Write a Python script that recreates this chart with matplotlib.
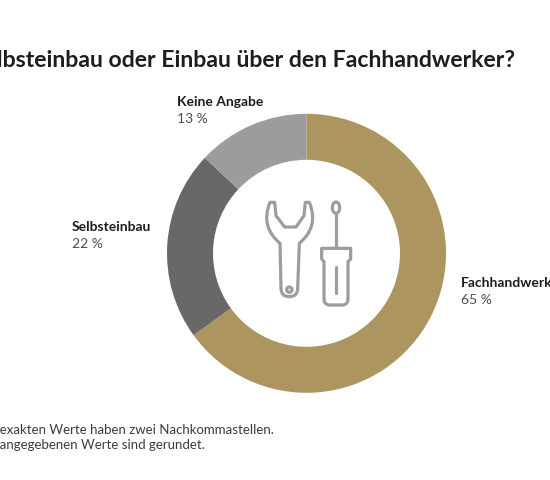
import matplotlib
matplotlib.use('Agg')
import matplotlib.pyplot as plt
from matplotlib.path import Path
from matplotlib.patches import PathPatch, Ellipse, Circle

plt.rcParams['font.family'] = ['Lato', 'DejaVu Sans']

# Daten
categories = ['Fachhandwerker', 'Selbsteinbau', 'Keine Angabe']
shares = [65, 22, 13]
colors = ['#ad955f', '#676867', '#9c9c9c']

title = 'Selbsteinbau oder Einbau über den Fachhandwerker?'
notes = ['Die exakten Werte haben zwei Nachkommastellen.',
         'Die angegebenen Werte sind gerundet.']

W, H = 550, 480
fig = plt.figure(figsize=(W / 100, H / 100), dpi=100)
ax = fig.add_axes([0, 0, 1, 1])

# Ring
cx, cy, r = 306.5, H - 253.3, 139.5
ax.pie(shares, colors=colors, startangle=90, counterclock=False,
       radius=r, center=(cx, cy),
       wedgeprops=dict(width=46, linewidth=0))
ax.set_xlim(0, W)
ax.set_ylim(0, H)
ax.set_aspect('equal')
ax.axis('off')


def tr(pts):
    # Icon-Koordinaten (lokal, y nach unten) -> Achsenkoordinaten
    return [(260 + x / 3, H - (195 + y / 3)) for x, y in pts]


icon_col = '#9d9d9d'
lw = 2.3

# Schraubenschluessel
M, L, Q, C = Path.MOVETO, Path.LINETO, Path.CURVE3, Path.CLOSEPOLY
wrench_pts = [(30, 22), (44, 22), (48, 62), (74, 96), (108, 96), (132, 62),
              (136, 22), (148, 22), (178, 95), (118, 145), (113, 280),
              (113, 305), (88, 305), (63, 305), (63, 280), (60, 145),
              (0, 95), (30, 22), (30, 22)]
wrench_codes = [M, L, L, L, L, L, L, L, Q, Q, L, Q, Q, Q, Q, L, Q, Q, C]
ax.add_patch(PathPatch(Path(tr(wrench_pts), wrench_codes), fill=False,
                       edgecolor=icon_col, lw=lw, joinstyle='round'))
hx, hy = tr([(88, 284)])[0]
ax.add_patch(Circle((hx, hy), 8 / 3, fill=False, edgecolor=icon_col, lw=lw))

# Schraubendreher
ex, ey = tr([(228, 38)])[0]
ax.add_patch(Ellipse((ex, ey), 22 / 3, 34 / 3, fill=False,
                     edgecolor=icon_col, lw=lw))
shaft = tr([(228, 56), (228, 160)])
ax.plot([p[0] for p in shaft], [p[1] for p in shaft], color=icon_col, lw=lw,
        solid_capstyle='butt')
handle_pts = [(185, 160), (272, 160), (272, 192), (264, 200), (264, 312),
              (264, 330), (246, 330), (210, 330), (192, 330), (192, 312),
              (192, 200), (185, 192), (185, 160)]
handle_codes = [M, L, L, L, L, Q, Q, L, Q, Q, L, L, C]
ax.add_patch(PathPatch(Path(tr(handle_pts), handle_codes), fill=False,
                       edgecolor=icon_col, lw=lw, joinstyle='round'))
slot = tr([(228, 215), (228, 295)])
ax.plot([p[0] for p in slot], [p[1] for p in slot], color=icon_col, lw=lw,
        solid_capstyle='round')

# Titel (im Original links angeschnitten)
ax.text(515, H - 67, title, ha='right', va='baseline', fontsize=16.55,
        fontweight='bold', color='#1d1d1b')

# Beschriftungen
label_pos = [(460.7, 287.3), (71.5, 231), (177, 106.5)]
for cat, val, (lx, ly) in zip(categories, shares, label_pos):
    ax.text(lx, H - ly, cat, ha='left', va='baseline', fontsize=10,
            fontweight='bold', color='#1d1d1b')
    ax.text(lx, H - ly - 16.8, f'{val} %', ha='left', va='baseline',
            fontsize=10, color='#4d4d4d')

# Fussnote
for i, line in enumerate(notes):
    ax.text(-24, H - 434.3 - i * 15, line, ha='left', va='baseline',
            fontsize=9.5, color='#3c3c3c')

fig.savefig('out.png', dpi=100)
